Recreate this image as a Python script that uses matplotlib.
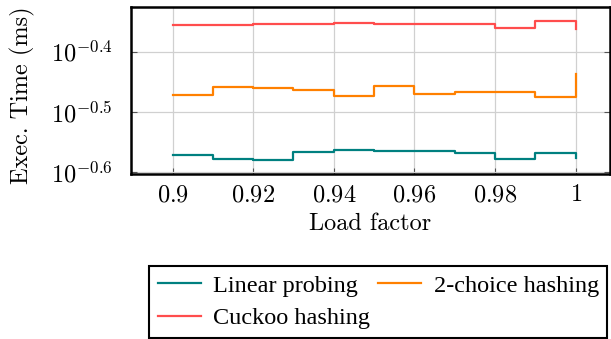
import matplotlib
matplotlib.use("Agg")
import matplotlib.pyplot as plt
from matplotlib.ticker import FixedLocator, NullLocator

plt.rcParams["font.family"] = ["Liberation Serif", "DejaVu Serif"]
plt.rcParams["mathtext.fontset"] = "cm"

# 负载因子
load_factor = [0.90, 0.91, 0.92, 0.93, 0.94, 0.95, 0.96, 0.97, 0.98, 0.99, 1.00]
# 执行时间 (ms)
linear_probing = [0.2681, 0.2638, 0.2630, 0.2716, 0.2732, 0.2726, 0.2726, 0.2708, 0.2638, 0.2708, 0.2650]
two_choice = [0.3380, 0.3477, 0.3463, 0.3437, 0.3357, 0.3490, 0.3393, 0.3411, 0.3419, 0.3350, 0.3661]
cuckoo = [0.4402, 0.4412, 0.4419, 0.4424, 0.4445, 0.4424, 0.4429, 0.4429, 0.4352, 0.4474, 0.4340]

y_ticks = [10 ** -0.6, 10 ** -0.5, 10 ** -0.4]
y_tick_labels = [r"$10^{-0.6}$", r"$10^{-0.5}$", r"$10^{-0.4}$"]
x_ticks = [0.90, 0.92, 0.94, 0.96, 0.98, 1.00]
x_tick_labels = [r"$0.9$", r"$0.92$", r"$0.94$", r"$0.96$", r"$0.98$", r"$1$"]

COLORS = {
    "linear": "#008080",
    "two": "#ff8000",
    "cuckoo": "#ff4d4d",
}
FS = 17.5

fig = plt.figure(figsize=(6.11, 3.39), dpi=100)
ax = fig.add_axes([131 / 611, 1 - 174 / 339, (610 - 131) / 611, (174 - 7) / 339])

h1, = ax.plot(load_factor, linear_probing, drawstyle="steps-post", color=COLORS["linear"], lw=1.6, label="Linear probing")
h2, = ax.plot(load_factor, two_choice, drawstyle="steps-post", color=COLORS["two"], lw=1.6, label="2-choice hashing")
h3, = ax.plot(load_factor, cuckoo, drawstyle="steps-post", color=COLORS["cuckoo"], lw=1.6, label="Cuckoo hashing")

ax.set_yscale("log")
ax.set_xlim(0.8897, 1.0085)
ax.set_ylim(10 ** -0.6028, 10 ** -0.326)

ax.yaxis.set_major_locator(FixedLocator(y_ticks))
ax.yaxis.set_minor_locator(NullLocator())
ax.set_yticklabels(y_tick_labels)
ax.set_xticks(x_ticks)
ax.set_xticklabels(x_tick_labels)

ax.grid(True, color="#d0d0d0", lw=0.9)
ax.set_axisbelow(True)
ax.tick_params(axis="both", direction="in", length=4, width=0.8, color="#555555",
               labelsize=FS, top=False, right=True)
ax.tick_params(axis="y", pad=13)
ax.tick_params(axis="x", pad=8)
for sp in ax.spines.values():
    sp.set_linewidth(1.8)
    sp.set_color("black")

ax.set_xlabel("Load factor", fontsize=FS, family="cmr10", labelpad=5)
ax.set_ylabel("Exec. Time (ms)", fontsize=FS, family="cmr10", labelpad=7)
ax.yaxis.set_label_coords(-0.2, 0.47)

leg = fig.legend(
    [h1, h3, h2],
    ["Linear probing", "Cuckoo hashing", "2-choice hashing"],
    ncol=2,
    loc="upper left",
    bbox_to_anchor=(149 / 611, 1 - 266 / 339),
    fontsize=FS,
    frameon=True,
    fancybox=False,
    handlelength=1.8,
    handletextpad=0.5,
    columnspacing=0.3,
    labelspacing=0.45,
    borderpad=0.35,
    borderaxespad=0,
)
leg.get_frame().set_edgecolor("black")
leg.get_frame().set_linewidth(1.5)
leg.get_frame().set_alpha(1)

fig.savefig("out.png", dpi=100)
